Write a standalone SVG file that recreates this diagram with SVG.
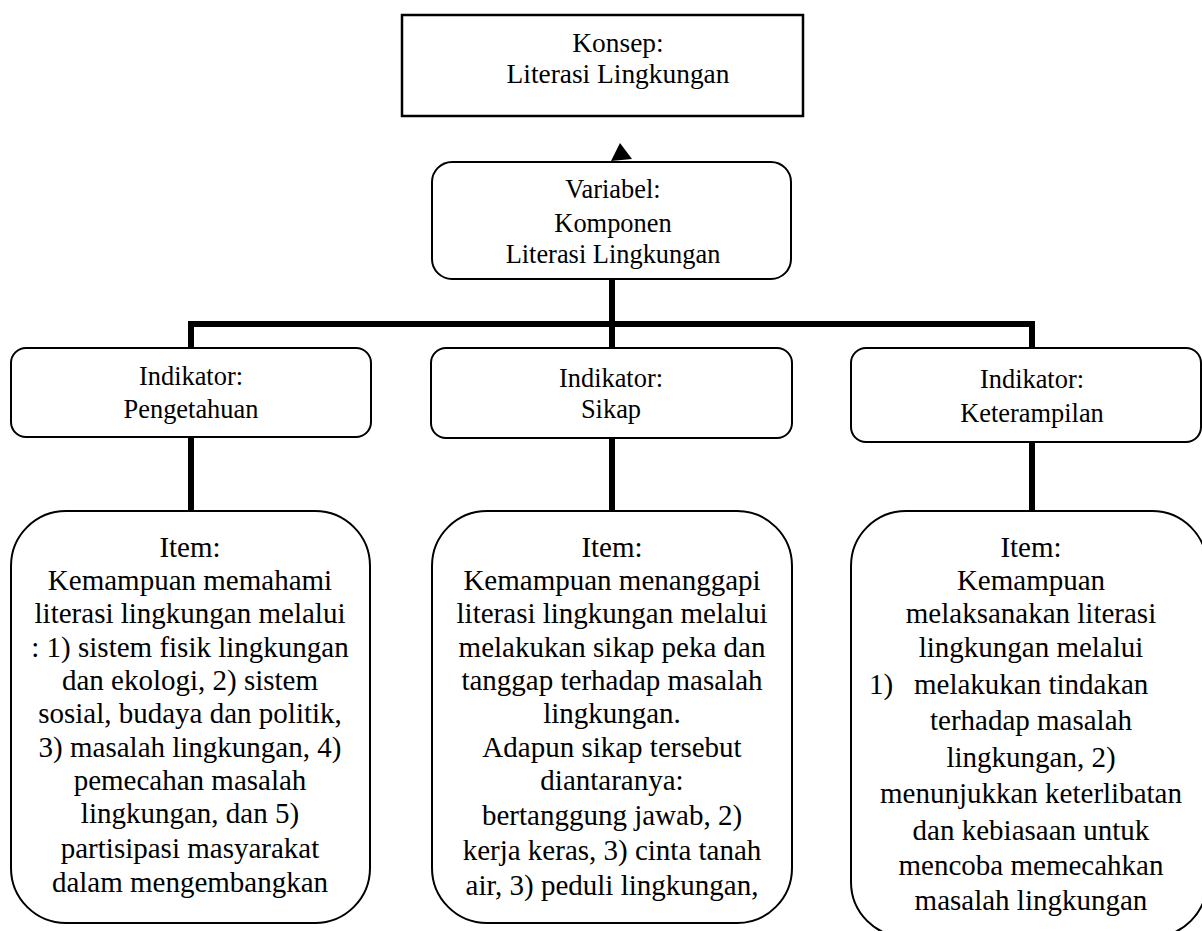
<svg xmlns="http://www.w3.org/2000/svg" width="1202" height="931" viewBox="0 0 1202 931">
<style>
.box{fill:#fff;stroke:#000;stroke-width:2}
text{font-family:"Liberation Serif","DejaVu Serif",serif;fill:#000;text-anchor:middle}
.s{font-size:26.4px}
.k{font-size:27.4px}
.l{font-size:29px}
.conn{stroke:#000;stroke-width:6;fill:none;stroke-linecap:butt}
</style>
<rect x="0" y="0" width="1202" height="931" fill="#fff"/>
<g id="connectors">
<path class="conn" d="M612 279 V511"/>
<path class="conn" d="M191 437 V511"/>
<path class="conn" d="M1032 442 V511"/>
<path class="conn" d="M191 348 V324 H1032 V348"/>
<polygon points="620,143 611,161 632,159" fill="#000"/>
</g>
<g id="konsep">
<rect class="box" x="402" y="15" width="401" height="101" style="stroke-width:2.5"/>
<text class="k" x="618" y="52">Konsep:</text>
<text class="k" x="618" y="83">Literasi Lingkungan</text>
</g>
<g id="variabel">
<rect class="box" x="432" y="162" width="359" height="117" rx="20"/>
<text class="s" x="613" y="198">Variabel:</text>
<text class="s" x="613" y="232">Komponen</text>
<text class="s" x="613" y="263">Literasi Lingkungan</text>
</g>
<g id="ind-pengetahuan">
<rect class="box" x="11" y="348" width="360" height="89" rx="15"/>
<text class="s" x="191" y="385">Indikator:</text>
<text class="s" x="191" y="418">Pengetahuan</text>
</g>
<g id="ind-sikap">
<rect class="box" x="431" y="348" width="361" height="90" rx="15"/>
<text class="s" x="611" y="387">Indikator:</text>
<text class="s" x="611" y="418">Sikap</text>
</g>
<g id="ind-keterampilan">
<rect class="box" x="851" y="348" width="350" height="94" rx="15"/>
<text class="s" x="1032" y="388">Indikator:</text>
<text class="s" x="1032" y="422">Keterampilan</text>
</g>
<g id="item-pengetahuan">
<rect class="box" x="11" y="511" width="359" height="412" rx="55"/>
<text class="l" x="190" y="557">Item:</text>
<text class="l" x="190" y="590">Kemampuan memahami</text>
<text class="l" x="190" y="623">literasi lingkungan melalui</text>
<text class="l" x="190" y="657">: 1) sistem fisik lingkungan</text>
<text class="l" x="190" y="690">dan ekologi, 2) sistem</text>
<text class="l" x="190" y="723">sosial, budaya dan politik,</text>
<text class="l" x="190" y="757">3) masalah lingkungan, 4)</text>
<text class="l" x="190" y="790">pemecahan masalah</text>
<text class="l" x="190" y="823">lingkungan, dan 5)</text>
<text class="l" x="190" y="858">partisipasi masyarakat</text>
<text class="l" x="190" y="892">dalam mengembangkan</text>
</g>
<g id="item-sikap">
<rect class="box" x="432" y="511" width="360" height="412" rx="55"/>
<text class="l" x="612" y="557">Item:</text>
<text class="l" x="612" y="590">Kemampuan menanggapi</text>
<text class="l" x="612" y="623">literasi lingkungan melalui</text>
<text class="l" x="612" y="657">melakukan sikap peka dan</text>
<text class="l" x="612" y="690">tanggap terhadap masalah</text>
<text class="l" x="612" y="723">lingkungan.</text>
<text class="l" x="612" y="757">Adapun sikap tersebut</text>
<text class="l" x="612" y="790">diantaranya:</text>
<text class="l" x="612" y="825">bertanggung jawab, 2)</text>
<text class="l" x="612" y="860">kerja keras, 3) cinta tanah</text>
<text class="l" x="612" y="895">air, 3) peduli lingkungan,</text>
</g>
<g id="item-keterampilan">
<rect class="box" x="851" y="511" width="356" height="426" rx="55"/>
<text class="l" x="1031" y="557">Item:</text>
<text class="l" x="1031" y="590">Kemampuan</text>
<text class="l" x="1031" y="623">melaksanakan literasi</text>
<text class="l" x="1031" y="657">lingkungan melalui</text>
<text class="l" x="869" y="694" style="text-anchor:start">1)</text>
<text class="l" x="914" y="694" style="text-anchor:start">melakukan tindakan</text>
<text class="l" x="1031" y="730">terhadap masalah</text>
<text class="l" x="1031" y="767">lingkungan, 2)</text>
<text class="l" x="1031" y="803">menunjukkan keterlibatan</text>
<text class="l" x="1031" y="840">dan kebiasaan untuk</text>
<text class="l" x="1031" y="875">mencoba memecahkan</text>
<text class="l" x="1031" y="910">masalah lingkungan</text>
</g>
</svg>
